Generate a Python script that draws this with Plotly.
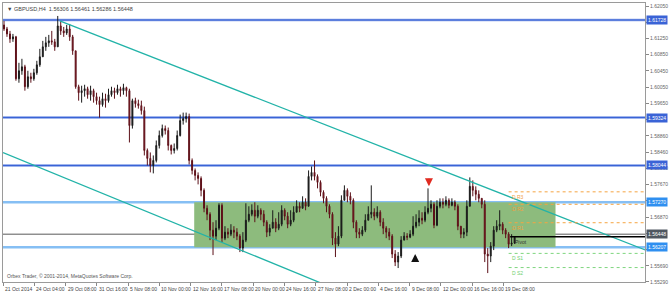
import plotly.graph_objects as go

# ---------------- data (GBPUSD, H4) ----------------
first_open = 1.61607
close = [1.61510, 1.61389, 1.61268, 1.61317, 1.60299, 1.60493, 1.60590, 1.60106, 1.60348, 1.60299,
         1.60445, 1.60638, 1.60833, 1.61075, 1.61172, 1.61220, 1.61196, 1.61075, 1.61583, 1.61462,
         1.61414, 1.61510, 1.61317, 1.60978, 1.60106, 1.59961, 1.60009, 1.60057, 1.59912, 1.60009,
         1.59864, 1.59767, 1.59670, 1.59815, 1.59767, 1.59912, 1.60009, 1.59961, 1.60057, 1.60009,
         1.60082, 1.60009, 1.59162, 1.59767, 1.59694, 1.59646, 1.59525, 1.58557, 1.58363, 1.58193,
         1.58314, 1.58678, 1.58920, 1.59089, 1.59041, 1.58678, 1.58557, 1.58605, 1.58920, 1.59283,
         1.59331, 1.59380, 1.58314, 1.58072, 1.57951, 1.57878, 1.57588, 1.57152, 1.57007, 1.56620,
         1.56475, 1.56668, 1.57225, 1.56426, 1.56572, 1.56523, 1.56620, 1.56572, 1.56475, 1.56185,
         1.56378, 1.56862, 1.57007, 1.57104, 1.56959, 1.57104, 1.57007, 1.56814, 1.56572, 1.56668,
         1.56814, 1.56668, 1.56765, 1.57104, 1.56959, 1.56765, 1.56862, 1.57056, 1.57201, 1.57152,
         1.57298, 1.57201, 1.57927, 1.58024, 1.57927, 1.57782, 1.57540, 1.57394, 1.57201, 1.57007,
         1.56426, 1.56281, 1.56475, 1.57346, 1.57588, 1.57443, 1.57346, 1.56814, 1.56572, 1.56523,
         1.56620, 1.56862, 1.57007, 1.57056, 1.56959, 1.57056, 1.56814, 1.56668, 1.56572, 1.56475,
         1.56039, 1.55845, 1.55991, 1.56378, 1.56475, 1.56451, 1.56523, 1.56717, 1.56814, 1.56910,
         1.56862, 1.57056, 1.57152, 1.57249, 1.56741, 1.57201, 1.57298, 1.57249, 1.57346, 1.57225,
         1.57298, 1.57201, 1.56717, 1.56523, 1.56572, 1.57201, 1.57685, 1.57588, 1.57491, 1.57394,
         1.57249, 1.56039, 1.55991, 1.56233, 1.56620, 1.56717, 1.56765, 1.56620, 1.56523, 1.56281,
         1.56306, 1.56448]
high = [1.61704, 1.61559, 1.61462, 1.61389, 1.61341, 1.60687, 1.60784, 1.60638, 1.60493, 1.60445,
        1.60541, 1.60735, 1.61026, 1.61220, 1.61317, 1.61365, 1.61462, 1.61268, 1.61825, 1.61704,
        1.61559, 1.61607, 1.61631, 1.61365, 1.60978, 1.60154, 1.60130, 1.60154, 1.60106, 1.60130,
        1.60057, 1.59961, 1.59864, 1.59961, 1.59936, 1.60057, 1.60106, 1.60082, 1.60154, 1.60106,
        1.60178, 1.60106, 1.60057, 1.59815, 1.59839, 1.59791, 1.59767, 1.59622, 1.58605, 1.58509,
        1.58436, 1.58799, 1.59041, 1.59186, 1.59162, 1.59114, 1.58702, 1.58727, 1.59041, 1.59428,
        1.59477, 1.59477, 1.59452, 1.58363, 1.58120, 1.58024, 1.57927, 1.57636, 1.57225, 1.57056,
        1.56814, 1.56862, 1.57273, 1.57273, 1.56717, 1.56668, 1.56765, 1.56717, 1.56668, 1.56523,
        1.56572, 1.57273, 1.57201, 1.57249, 1.57298, 1.57225, 1.57152, 1.57104, 1.56862, 1.56765,
        1.57104, 1.56910, 1.57056, 1.57225, 1.57152, 1.57056, 1.57104, 1.57201, 1.57346, 1.57298,
        1.57443, 1.57394, 1.58072, 1.58169, 1.58314, 1.57975, 1.57830, 1.57588, 1.57443, 1.57249,
        1.57056, 1.56572, 1.56717, 1.57467, 1.57709, 1.57636, 1.57540, 1.57394, 1.56862, 1.56668,
        1.56717, 1.57007, 1.57201, 1.57709, 1.57152, 1.57201, 1.57104, 1.56910, 1.56717, 1.56668,
        1.56523, 1.56136, 1.56088, 1.56475, 1.56572, 1.56548, 1.56620, 1.56959, 1.57007, 1.57104,
        1.57056, 1.57201, 1.57636, 1.57346, 1.57298, 1.57346, 1.57394, 1.57394, 1.57443, 1.57394,
        1.57394, 1.57346, 1.57249, 1.56717, 1.56668, 1.57346, 1.57903, 1.57830, 1.57685, 1.57588,
        1.57394, 1.57346, 1.56185, 1.56330, 1.56717, 1.56862, 1.57104, 1.56814, 1.56668, 1.56572,
        1.56523, 1.56461]
low = [1.61462, 1.61317, 1.61172, 1.61196, 1.60251, 1.60203, 1.60396, 1.60009, 1.60057, 1.60203,
       1.60251, 1.60396, 1.60590, 1.60833, 1.60978, 1.61075, 1.61123, 1.60978, 1.61075, 1.61365,
       1.61317, 1.61365, 1.61220, 1.60881, 1.60057, 1.59767, 1.59719, 1.59864, 1.59815, 1.59767,
       1.59719, 1.59670, 1.59356, 1.59622, 1.59598, 1.59719, 1.59864, 1.59815, 1.59912, 1.59864,
       1.59912, 1.59864, 1.58751, 1.59089, 1.59598, 1.59573, 1.59428, 1.58436, 1.58193, 1.58024,
       1.58000, 1.58266, 1.58605, 1.58872, 1.58944, 1.58557, 1.58460, 1.58484, 1.58557, 1.58896,
       1.59186, 1.59235, 1.58217, 1.57975, 1.57830, 1.57733, 1.57443, 1.57056, 1.56862, 1.56378,
       1.56015, 1.56378, 1.56620, 1.56330, 1.56378, 1.56426, 1.56475, 1.56426, 1.56378, 1.56088,
       1.56088, 1.56330, 1.56814, 1.56959, 1.56814, 1.56910, 1.56862, 1.56717, 1.56451, 1.56475,
       1.56668, 1.56572, 1.56620, 1.56717, 1.56862, 1.56668, 1.56717, 1.56814, 1.57056, 1.57056,
       1.57152, 1.57104, 1.57201, 1.57830, 1.57830, 1.57636, 1.57443, 1.57273, 1.57056, 1.56910,
       1.56257, 1.55967, 1.56233, 1.56426, 1.57346, 1.57298, 1.57249, 1.56668, 1.56426, 1.56426,
       1.56475, 1.56572, 1.56862, 1.56910, 1.56862, 1.56910, 1.56717, 1.56523, 1.56426, 1.56378,
       1.55942, 1.55748, 1.55700, 1.55942, 1.56378, 1.56378, 1.56426, 1.56475, 1.56668, 1.56717,
       1.56765, 1.56814, 1.57007, 1.57056, 1.56668, 1.56717, 1.57152, 1.57152, 1.57201, 1.57152,
       1.57201, 1.57104, 1.56620, 1.56426, 1.56426, 1.56475, 1.57201, 1.57443, 1.57346, 1.57298,
       1.57152, 1.55845, 1.55578, 1.55845, 1.56136, 1.56572, 1.56620, 1.56523, 1.56426, 1.56185,
       1.56233, 1.56286]
open_ = [first_open] + close[:-1]
bars = list(range(len(close)))

date_labels = ["21 Oct 2014", "24 Oct 04:00", "29 Oct 08:00", "31 Oct 16:00", "5 Nov 08:00",
               "10 Nov 00:00", "12 Nov 16:00", "17 Nov 08:00", "20 Nov 00:00", "24 Nov 16:00",
               "27 Nov 08:00", "2 Dec 00:00", "4 Dec 16:00", "9 Dec 08:00", "12 Dec 00:00",
               "16 Dec 16:00", "19 Dec 08:00"]
bars_per_label = 10.47

price_ticks = [1.62067, 1.61672, 1.61278, 1.60883, 1.60488, 1.60094, 1.59699, 1.59305, 1.58910,
               1.58515, 1.58121, 1.57726, 1.57332, 1.56937, 1.56542, 1.56148, 1.55753, 1.55362]
# labels of ticks that sit under a price box are not visible in the terminal
price_tick_text = ["1.62050", "", "1.61250", "1.60850", "1.60450", "1.60050", "1.59650",
                   "", "1.58860", "1.58460", "1.58060", "1.57670", "", "1.56870",
                   "", "", "1.55690", "1.55290"]

# horizontal levels
res_levels = [1.61728, 1.59355, 1.58193]
res_texts = ["1.61728", "1.59324", "1.58044"]
zone_levels = [1.57297, 1.56207]
zone_texts = ["1.57270", "1.56207"]
zone_bars = [63.7, 184.7]
bid_level = 1.56523
bid_text = "1.56448"

# daily pivots
pivot_start_bar = 169.5
pivot_level = 1.56460
piv_names = ["D R3", "D R2", "D R1", "D S1", "D S2"]
piv_levels = [1.57552, 1.57249, 1.56801, 1.56056, 1.55712]

# trend channel (bar, price)
upper_bars = [18.67, 222.0]
upper_prices = [1.61704, 1.55934]
lower_bars = [-0.33, 115.0]
lower_prices = [1.58508, 1.55072]

# signal arrows (bar, price)
sell_bar, sell_price = 142.3, 1.57685
buy_bar, buy_price = 137.7, 1.56039

# ---------------- figure ----------------
FONT = "Liberation Sans, Arial, DejaVu Sans"
X_RANGE = [-0.3333, 214.6667]
Y_RANGE = [1.55361, 1.62140]

fig = go.Figure()

fig.add_trace(go.Scatter(x=upper_bars, y=upper_prices, mode="lines",
                         line=dict(color="#22b3a8", width=1.3), hoverinfo="skip"))
fig.add_trace(go.Scatter(x=lower_bars, y=lower_prices, mode="lines",
                         line=dict(color="#22b3a8", width=1.3), hoverinfo="skip"))

fig.add_trace(go.Candlestick(
    x=bars, open=open_, high=high, low=low, close=close,
    increasing=dict(line=dict(color="#1a1a1a", width=1), fillcolor="#1a1a1a"),
    decreasing=dict(line=dict(color="#5c1018", width=1), fillcolor="#a01a28"),
    whiskerwidth=0, hoverinfo="skip"))

shapes = []
# green range box
shapes.append(dict(type="rect", xref="x", yref="y", x0=zone_bars[0], x1=zone_bars[1],
                   y0=zone_levels[1], y1=zone_levels[0], fillcolor="#8dbb7d",
                   line=dict(width=0), layer="below"))
# resistance levels (blue with light halo)
for v in res_levels:
    shapes.append(dict(type="line", xref="paper", yref="y", x0=0, x1=1, y0=v, y1=v,
                       line=dict(color="#c3d0f4", width=3), layer="below"))
    shapes.append(dict(type="line", xref="paper", yref="y", x0=0, x1=1, y0=v, y1=v,
                       line=dict(color="#3a63d6", width=1.5), layer="below"))
# zone edges (light blue)
for v in zone_levels:
    shapes.append(dict(type="line", xref="paper", yref="y", x0=0, x1=1, y0=v, y1=v,
                       line=dict(color="#86bff4", width=2.5), layer="below"))
# bid line
shapes.append(dict(type="line", xref="paper", yref="y", x0=0, x1=1, y0=bid_level, y1=bid_level,
                   line=dict(color="#5a5a5a", width=1), layer="below"))
# pivot lines
shapes.append(dict(type="line", xref="x", yref="y", x0=pivot_start_bar, x1=X_RANGE[1],
                   y0=pivot_level, y1=pivot_level, line=dict(color="#000000", width=1.5)))
for name, v in zip(piv_names, piv_levels):
    col = "#f5a442" if "R" in name else "#7fd67f"
    shapes.append(dict(type="line", xref="x", yref="y", x0=pivot_start_bar - 0.5, x1=X_RANGE[1],
                       y0=v, y1=v, line=dict(color=col, width=1, dash="dot")))

ann = []
# title
ann.append(dict(xref="paper", yref="paper", x=0, y=1, xanchor="left", yanchor="top",
                xshift=2, yshift=-1, showarrow=False,
                text=f"▼ GBPUSD,H4  {open_[-1]:.5f} {high[-1]:.5f} {low[-1]:.5f} {close[-1]:.5f}",
                font=dict(family=FONT, size=5.5, color="#444")))
# copyright
ann.append(dict(xref="paper", yref="paper", x=0, y=0, xanchor="left", yanchor="bottom",
                xshift=2, yshift=1, showarrow=False,
                text="Orbex Trader, © 2001-2014, MetaQuotes Software Corp.",
                font=dict(family=FONT, size=5, color="#555")))
# date labels
date_pos = [-0.3 + k * bars_per_label for k in range(len(date_labels))]
for p, t in zip(date_pos, date_labels):
    ann.append(dict(xref="x", yref="paper", x=p, y=0, xanchor="left", yanchor="top",
                    xshift=0, yshift=-2, showarrow=False, text=t,
                    font=dict(family=FONT, size=5, color="#444")))
# price label boxes
for v, t in zip(res_levels, res_texts):
    ann.append(dict(xref="paper", yref="y", x=1, y=v, xanchor="left", yanchor="middle",
                    xshift=1, showarrow=False, text=t, bgcolor="#3a63d6", borderpad=1,
                    font=dict(family=FONT, size=5, color="white")))
for v, t in zip(zone_levels, zone_texts):
    ann.append(dict(xref="paper", yref="y", x=1, y=v, xanchor="left", yanchor="middle",
                    xshift=1, showarrow=False, text=t, bgcolor="#2f8ff0", borderpad=1,
                    font=dict(family=FONT, size=5, color="white")))
ann.append(dict(xref="paper", yref="y", x=1, y=bid_level, xanchor="left", yanchor="middle",
                xshift=1, showarrow=False, text=bid_text, bgcolor="#4f5760", borderpad=1,
                font=dict(family=FONT, size=5, color="white")))
# pivot labels
for name, v in zip(piv_names, piv_levels):
    col = "#f0a040" if "R" in name else "#6fcf6f"
    ann.append(dict(xref="x", yref="y", x=pivot_start_bar, y=v, xanchor="left", yanchor="top",
                    showarrow=False, text=name, font=dict(family=FONT, size=5, color=col)))
ann.append(dict(xref="x", yref="y", x=pivot_start_bar + 1, y=pivot_level, xanchor="left",
                yanchor="top", showarrow=False, text="Pivot",
                font=dict(family=FONT, size=5, color="#333")))
# arrows
ann.append(dict(xref="x", yref="y", x=sell_bar, y=sell_price, ax=0, ay=-9, text="",
                showarrow=True, arrowhead=2, arrowsize=0.8, arrowwidth=2, arrowcolor="#e02a20"))
ann.append(dict(xref="x", yref="y", x=buy_bar, y=buy_price, ax=0, ay=9, text="",
                showarrow=True, arrowhead=2, arrowsize=0.8, arrowwidth=2, arrowcolor="#111"))

fig.update_layout(
    width=670, height=292, margin=dict(l=3, r=22, t=2, b=10),
    paper_bgcolor="white", plot_bgcolor="white", showlegend=False,
    shapes=shapes, annotations=ann, boxgap=0.55,
    xaxis=dict(range=X_RANGE, rangeslider=dict(visible=False), showgrid=False, zeroline=False,
               showline=True, linecolor="#9a9a9a", linewidth=1, mirror=True,
               tickvals=date_pos, ticktext=[""] * len(date_pos), ticks="outside", ticklen=3,
               tickcolor="#888"),
    yaxis=dict(range=Y_RANGE, side="right", showgrid=False, zeroline=False,
               showline=True, linecolor="#9a9a9a", linewidth=1, mirror=True,
               tickvals=price_ticks, ticktext=price_tick_text, ticks="outside", ticklen=3,
               tickcolor="#888", tickfont=dict(family=FONT, size=5, color="#666")),
)

fig.write_html("out.html")
